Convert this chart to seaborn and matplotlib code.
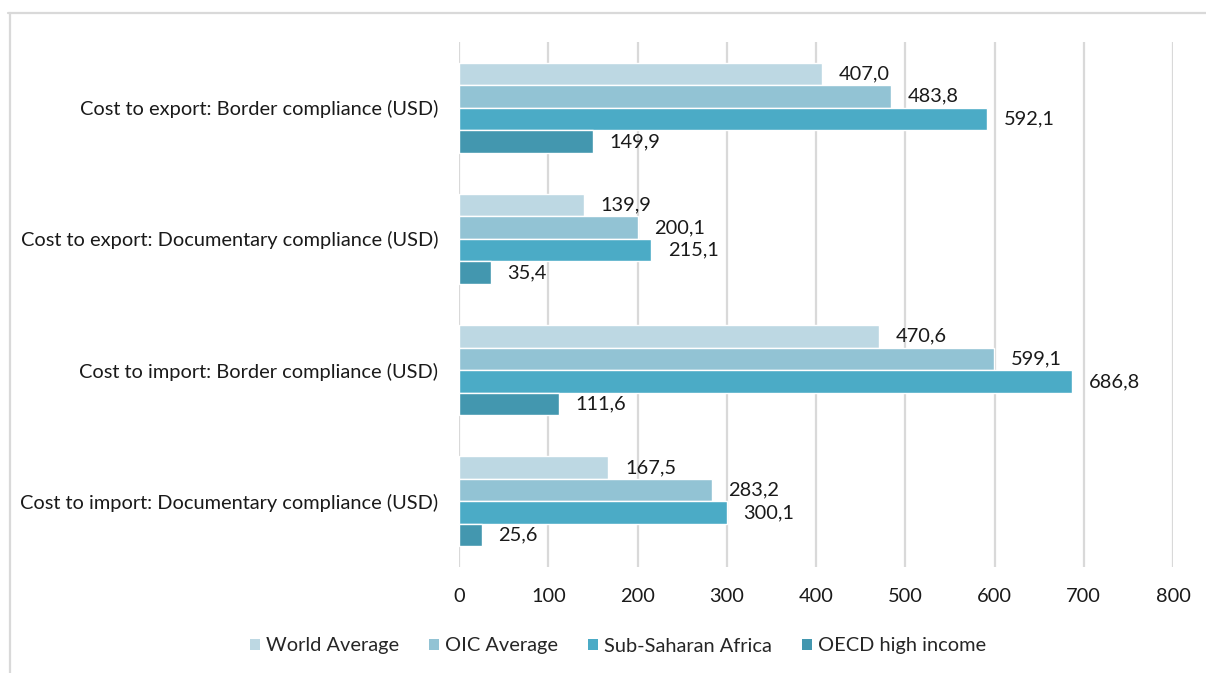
import matplotlib
matplotlib.use("Agg")
import matplotlib.pyplot as plt
from matplotlib.lines import Line2D
from matplotlib.patches import Patch
import pandas as pd
import seaborn as sns

categories = [
    "Cost to export: Border compliance (USD)",
    "Cost to export: Documentary compliance (USD)",
    "Cost to import: Border compliance (USD)",
    "Cost to import: Documentary compliance (USD)",
]
series = ["World Average", "OIC Average", "Sub-Saharan Africa", "OECD high income"]
world_avg = [407.0, 139.9, 470.6, 167.5]
oic_avg = [483.8, 200.1, 599.1, 283.2]
ssa = [592.1, 215.1, 686.8, 300.1]
oecd_high = [149.9, 35.4, 111.6, 25.6]
x_ticks = [0, 100, 200, 300, 400, 500, 600, 700, 800]
colors = ["#BDD8E3", "#92C3D4", "#4BABC6", "#4397AF"]

rows = []
for name, vals in zip(series, [world_avg, oic_avg, ssa, oecd_high]):
    for cat, v in zip(categories, vals):
        rows.append({"Indicator": cat, "Group": name, "Value": v})
df = pd.DataFrame(rows)

sns.set_theme(style="white")
plt.rcParams["font.family"] = ["Lato", "DejaVu Sans"]

FS = 14.4
W, H = 1206, 673
fig = plt.figure(figsize=(W / 100, H / 100), dpi=100)
ax = fig.add_axes([459 / W, 1 - 567 / H, (1173 - 459) / W, (567 - 42) / H])

sns.barplot(
    data=df, y="Indicator", x="Value", hue="Group",
    order=categories, hue_order=series, palette=colors, saturation=1,
    orient="h", width=0.686, edgecolor="white", linewidth=1.0,
    errorbar=None, ax=ax, legend=False,
)

for cont in ax.containers:
    labels = [f"{v:.1f}".replace(".", ",") for v in cont.datavalues]
    ax.bar_label(cont, labels=labels, padding=12, fontsize=FS, color="#1a1a1a")

ax.set_xlim(0, 800)
ax.set_ylim(3.5, -0.5)
ax.set_xticks(x_ticks)
ax.set_xticklabels([str(t) for t in x_ticks], fontsize=FS, color="#1a1a1a")
ax.tick_params(axis="x", length=0, pad=15)
ax.tick_params(axis="y", length=0, pad=15, labelsize=FS, labelcolor="#1a1a1a")
ax.set_xlabel("")
ax.set_ylabel("")
ax.grid(axis="x", color="#D9D9D9", linewidth=1.6)
ax.set_axisbelow(True)
for s in ax.spines.values():
    s.set_visible(False)

handles = [Patch(facecolor=c, edgecolor="none") for c in colors]
fig.legend(
    handles, series, loc="center", bbox_to_anchor=(618 / W, 1 - 646 / H),
    ncol=4, frameon=False, fontsize=FS, handlelength=0.5, handleheight=0.5,
    handletextpad=0.3, columnspacing=1.5,
)

# outer frame lines
fig.add_artist(Line2D([8 / W, 1.0], [1 - 12.5 / H] * 2, transform=fig.transFigure,
                      color="#D9D9D9", linewidth=1.6))
fig.add_artist(Line2D([9.5 / W] * 2, [1 - 12.5 / H, 0.0], transform=fig.transFigure,
                      color="#D9D9D9", linewidth=1.6))

fig.savefig("out.png", dpi=100)
